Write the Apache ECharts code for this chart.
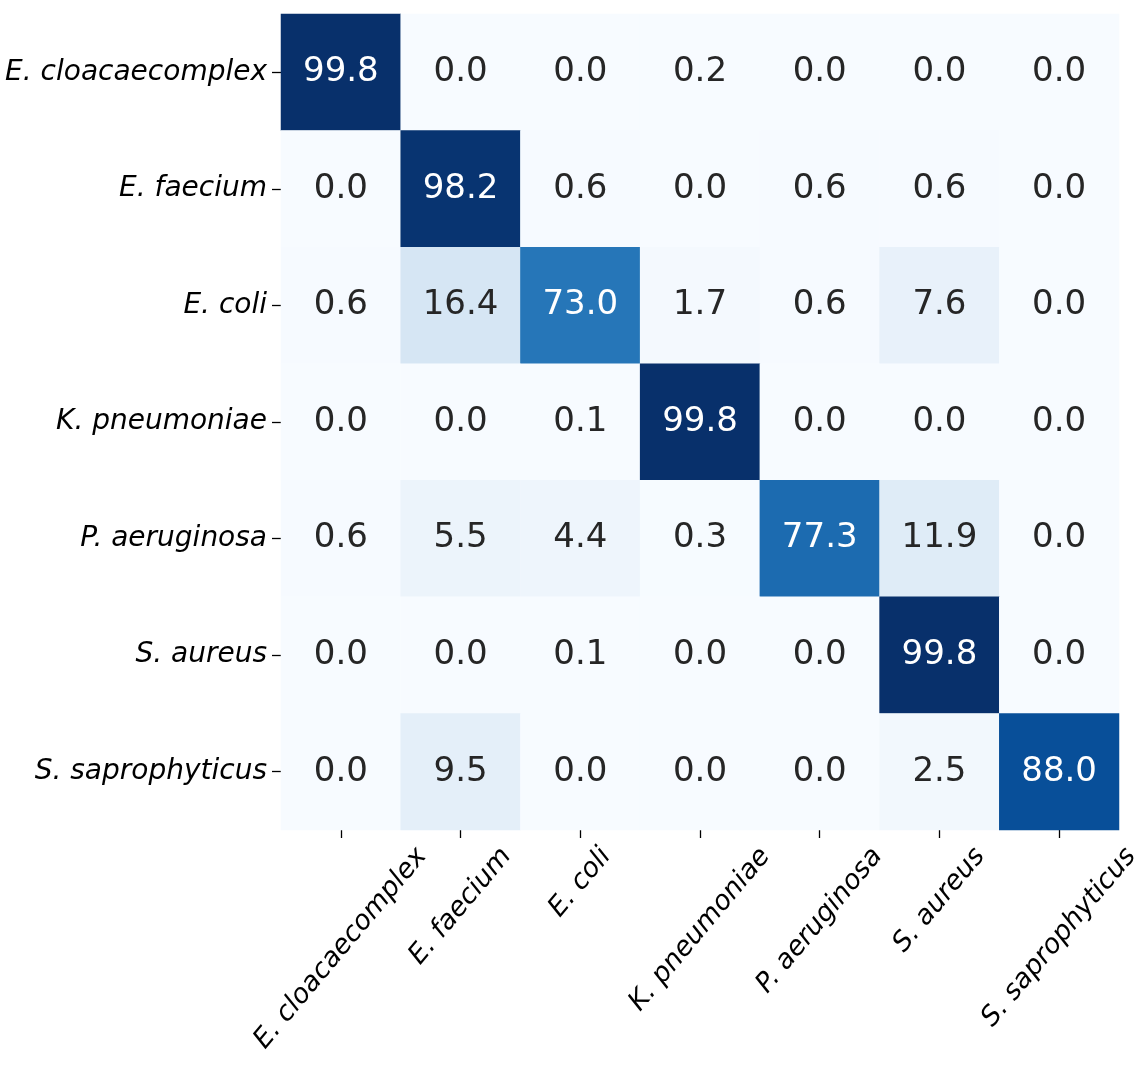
<!DOCTYPE html>
<html>
<head>
<meta charset="utf-8">
<script src="https://cdn.jsdelivr.net/npm/echarts@6/dist/echarts.min.js"></script>
<style>
html,body{margin:0;padding:0;background:#fff;}
#chart{width:1142px;height:1076px;}
</style>
</head>
<body>
<div id="chart"></div>
<script>
const categories = ['E. cloacaecomplex','E. faecium','E. coli','K. pneumoniae','P. aeruginosa','S. aureus','S. saprophyticus'];
const row0 = [99.8, 0.0, 0.0, 0.2, 0.0, 0.0, 0.0];
const row1 = [0.0, 98.2, 0.6, 0.0, 0.6, 0.6, 0.0];
const row2 = [0.6, 16.4, 73.0, 1.7, 0.6, 7.6, 0.0];
const row3 = [0.0, 0.0, 0.1, 99.8, 0.0, 0.0, 0.0];
const row4 = [0.6, 5.5, 4.4, 0.3, 77.3, 11.9, 0.0];
const row5 = [0.0, 0.0, 0.1, 0.0, 0.0, 99.8, 0.0];
const row6 = [0.0, 9.5, 0.0, 0.0, 0.0, 2.5, 88.0];
const rows = [row0,row1,row2,row3,row4,row5,row6];
const blues = ['#f7fbff','#deebf7','#c6dbef','#9ecae1','#6baed6','#4292c6','#2171b5','#08519c','#08306b'];

const data = [];
rows.forEach((r, yi) => r.forEach((v, xi) => {
  data.push({value:[xi, yi, v], label:{color: v > 50 ? '#ffffff' : '#262626'}});
}));

const gridTop = 14, gridH = 816;
const chart = echarts.init(document.getElementById('chart'));
chart.setOption({
  animation:false,
  grid:{left:281, top:gridTop, width:838, height:gridH, outerBoundsMode:'none'},
  xAxis:{type:'category', data:categories, position:'bottom',
    axisLine:{show:false}, splitLine:{show:false},
    axisTick:{show:true, interval:0, alignWithLabel:true, length:8, lineStyle:{color:'#000', width:1.3}},
    axisLabel:{show:false}},
  yAxis:{type:'category', data:categories, inverse:true,
    axisLine:{show:false}, splitLine:{show:false},
    axisTick:{show:true, interval:0, alignWithLabel:true, length:9, lineStyle:{color:'#000', width:1.3}},
    axisLabel:{margin:14, interval:0,
      fontFamily:'DejaVu Sans', fontStyle:'italic', fontSize:28, color:'#000'}},
  visualMap:{show:false, min:0, max:99.8, dimension:2, inRange:{color:blues}},
  series:[{type:'heatmap', data:data,
    label:{show:true, fontFamily:'DejaVu Sans', fontSize:34,
      formatter:p => p.value[2].toFixed(1)},
    emphasis:{disabled:true}}]
});

// x tick labels: rotated, bounding box centred on the tick (matplotlib ha='center')
const xFontSize = 27;
const xFont = 'italic ' + xFontSize + 'px "DejaVu Sans"';
const ctx = document.createElement('canvas').getContext('2d');
ctx.font = xFont;
const theta = 50 * Math.PI / 180;
const labelTop = gridTop + gridH + 13;
chart.setOption({
  graphic: categories.map((c, i) => {
    const L = ctx.measureText(c).width;
    const px = chart.convertToPixel({xAxisIndex:0}, c);
    const halfH = (L * Math.sin(theta) + xFontSize * Math.cos(theta)) / 2;
    return {type:'text', x:px, y:labelTop + halfH, rotation:theta,
      style:{text:c, font:xFont, fill:'#000', align:'center', verticalAlign:'middle'}};
  })
});
</script>
</body>
</html>
